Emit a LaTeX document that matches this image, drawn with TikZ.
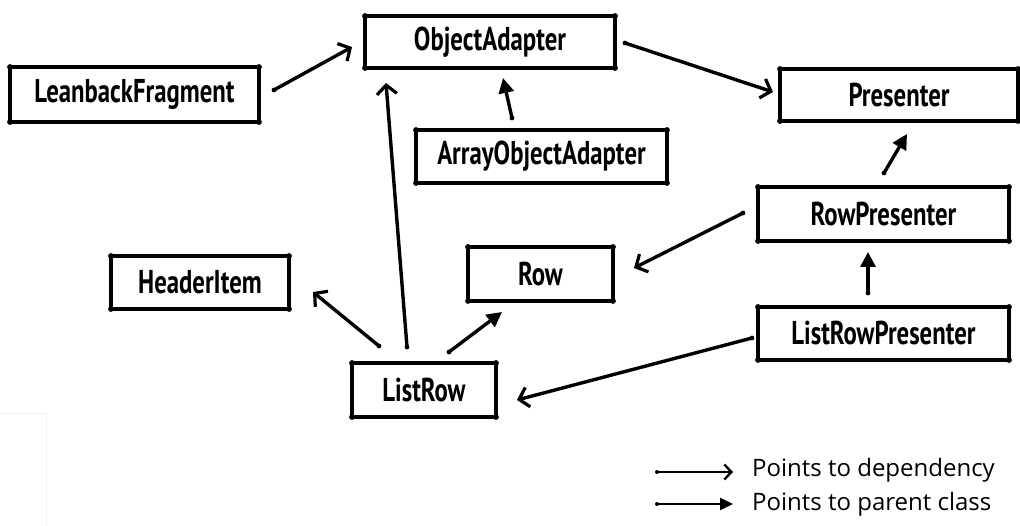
\documentclass[tikz,border=0pt]{standalone}
\usepackage{fontspec}
\setmainfont{Open Sans}
\newfontfamily\handfont[FakeStretch=0.75]{PT Sans}
\usetikzlibrary{arrows.meta,calc}

\begin{document}
\begin{tikzpicture}[x=1pt,y=-1pt,
  classbox/.style={draw, line width=3.2pt, line join=round, outer sep=0pt,
    inner sep=0pt, minimum height=53pt,
    font=\handfont\bfseries\fontsize{33}{36}\selectfont},
  link/.style={line width=3.4pt, line cap=round, line join=round},
  dep/.style={link, -{Straight Barb[length=9pt,width=20pt,line width=3.2pt]}},
  parent/.style={link, -{Triangle[length=15pt,width=15pt]}},
  legdep/.style={line width=2.4pt, line cap=round, line join=round, -{Straight Barb[length=7pt,width=15pt,line width=2.4pt]}},
  legpar/.style={line width=2.4pt, line cap=round, -{Triangle[length=13pt,width=12pt]}},
  legtext/.style={anchor=west, inner sep=0pt, font=\fontsize{24}{28}\selectfont},
  blob/.style={fill, radius=2.9pt}
]
\useasboundingbox (0,0) rectangle (1020,526);

% faint frame in the lower left corner
\draw[black!6, line width=0.8pt] (0,413) -- (46,413) -- (46,526);

% classes
\node[classbox, minimum width=249pt, minimum height=55pt] (lf)   at (134.5,94.5) {LeanbackFragment};
\node[classbox, minimum width=250pt, minimum height=52pt] (oa)   at (490,42)     {ObjectAdapter};
\node[classbox, minimum width=251pt] (aoa)  at (541.5,156.5) {ArrayObjectAdapter};
\node[classbox, minimum width=238pt, minimum height=52pt] (pres) at (899,95)   {Presenter};
\node[classbox, minimum width=251pt, minimum height=54pt] (rp)   at (883.5,214) {RowPresenter};
\node[classbox, minimum width=251pt] (lrp)  at (883.5,333.5) {ListRowPresenter};
\node[classbox, minimum width=178pt] (hi)   at (200,282.5) {HeaderItem};
\node[classbox, minimum width=145pt, minimum height=54pt] (row)  at (540.5,274) {Row};
\node[classbox, minimum width=144pt, minimum height=54pt] (lr)   at (424,390)   {ListRow};

% ink blobs on the box corners
\foreach \n in {lf,oa,aoa,pres,rp,lrp,hi,row,lr}
  \foreach \a in {north west,north east,south west,south east}
    \fill (\n.\a) circle (2.9pt);

% dependencies
\draw[dep] ($(lf.east)+(15,-4.5)$) coordinate (s1) -- ($(oa.west)+(-13,5)$);
\draw[dep] ($(oa.east)+(10,1)$) coordinate (s2) -- ($(pres.west)+(-7,-3)$);
\draw[dep] ($(lr.north)+(-17,-16)$) coordinate (s3) -- ($(oa.south west)+(21,15)$);
\draw[dep] ($(lr.north west)+(27,-17)$) coordinate (s4) -- ($(hi.east)+(24,9.5)$);
\draw[dep] ($(lrp.west)+(-6,4.5)$) coordinate (s5) -- ($(lr.east)+(21,10)$);
\draw[dep] ($(rp.west)+(-15,-1)$) coordinate (s6) -- ($(row.east)+(21,-6)$);

% inheritance
\draw[parent] ($(aoa.north)+(-29.5,-12)$) coordinate (s7) -- ($(oa.south)+(13,10)$);
\draw[parent] ($(lr.north)+(25,-11)$) coordinate (s8) -- ($(row.south)+(-38.5,11)$);
\draw[parent] ($(rp.north)+(0.5,-14)$) coordinate (s9) -- ($(pres.south)+(8,13)$);
\draw[parent] ($(lrp.north)+(-15.5,-14)$) coordinate (s10) -- ($(rp.south)+(-15.5,11)$);

% ink blobs where the strokes start
\foreach \s in {s1,s2,s3,s4,s5,s6,s7,s8,s9,s10}
  \fill (\s) circle (2.4pt);

% legend
\node[legtext] (ldep) at (752,470) {Points to dependency};
\node[legtext] (lpar) at (752,504) {Points to parent class};
\coordinate (ldepstart) at (657,472);
\coordinate (lparstart) at (657,504);
\draw[legdep] (ldepstart) -- ($(ldep.west)+(-19,2)$);
\draw[legpar] (lparstart) -- ($(lpar.west)+(-19,0)$);
\fill (ldepstart) circle (2pt);
\fill (lparstart) circle (2pt);
\end{tikzpicture}
\end{document}
